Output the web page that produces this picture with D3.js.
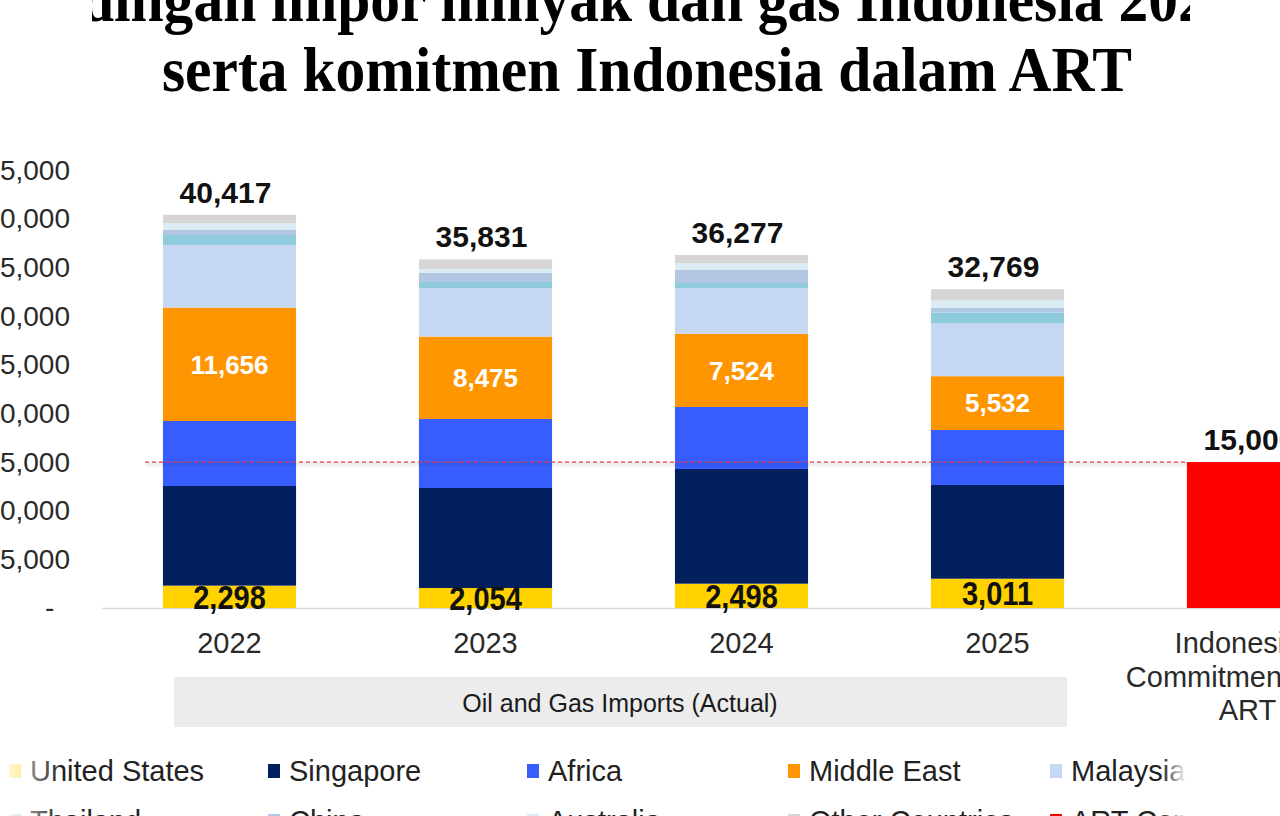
<!DOCTYPE html>
<html>
<head>
<meta charset="utf-8">
<script src="https://cdn.jsdelivr.net/npm/d3@7"></script>
<style>
  html, body { margin: 0; padding: 0; background: #fff; overflow: hidden; }
  svg { display: block; }
</style>
</head>
<body>
<svg id="chart" width="1280" height="816"></svg>
<script>
// ---------------- DATA ----------------
const titleLines = [
  "Perbandingan impor minyak dan gas Indonesia 2022-2025",
  "serta komitmen Indonesia dalam ART"
];
const categories = ["2022", "2023", "2024", "2025"];
const artCategory = "ART";
const artLabelLines = ["Indonesia's", "Commitment in the", "ART"];
const seriesNames = ["United States", "Singapore", "Africa", "Middle East", "Malaysia",
                     "Thailand", "China", "Australia", "Other Countries"];
const unitedStates   = [2298, 2054, 2498, 3011];
const singapore      = [10241, 10279, 11788, 9630];
const africa         = [6680, 7091, 6372, 5652];
const middleEast     = [11656, 8475, 7524, 5532];
const malaysia       = [6432, 4989, 4706, 5414];
const thailand       = [1028, 617, 514, 1130];
const china          = [514, 925, 1336, 514];
const australia      = [719, 411, 719, 719];
const otherCountries = [849, 990, 820, 1167];
const totals         = [40417, 35831, 36277, 32769];
const artCommitment  = 15000;
const artLegendName  = "ART Commitment";
const groupLabel     = "Oil and Gas Imports (Actual)";
const yTickValues    = [0, 5000, 10000, 15000, 20000, 25000, 30000, 35000, 40000, 45000];

// ---------------- STYLE ----------------
const colors = {
  "United States": "#ffd200",
  "Singapore": "#021f5e",
  "Africa": "#385dff",
  "Middle East": "#ff9500",
  "Malaysia": "#c6d8f1",
  "Thailand": "#8ecbdc",
  "China": "#b2c7e2",
  "Australia": "#dcecf5",
  "Other Countries": "#d6d6d6"
};
const artColor = "#ff0000";

const seriesData = [unitedStates, singapore, africa, middleEast, malaysia,
                    thailand, china, australia, otherCountries];

const svg = d3.select("#chart");
const W = 1280, H = 816;

const allCats = categories.concat([artCategory]);
const x = d3.scaleBand().domain(allCats).range([101.5, 1381.5])
  .paddingInner(0.48).paddingOuter(0.24);
const y = d3.scaleLinear().domain([0, 45000]).range([608, 170.15]);

const rows = categories.map((c, i) => {
  const r = { cat: c };
  seriesNames.forEach((s, j) => r[s] = seriesData[j][i]);
  return r;
});
const stack = d3.stack().keys(seriesNames)(rows);

const sansFont = "'Liberation Sans', Arial, Helvetica, sans-serif";
function scaledText(g, tx, ty, txt, sx, attrs) {
  const t = g.append("text")
    .attr("transform", `translate(${tx},${ty}) scale(${sx},1)`)
    .text(txt);
  Object.entries(attrs).forEach(([k, v]) => t.attr(k, v));
  return t;
}

// ---------------- TITLE ----------------
const titleG = svg.append("g");
[[titleLines[0], 636, 21], [titleLines[1], 647, 91]].forEach(([t, cx, by]) => {
  scaledText(titleG, cx, by, t, 0.93, {
    "text-anchor": "middle",
    "font-family": "'Liberation Serif', 'Times New Roman', serif",
    "font-weight": "bold",
    "font-size": 64,
    "fill": "#000"
  });
});
svg.append("rect").attr("x", 0).attr("y", 0).attr("width", 92).attr("height", 42).attr("fill", "#fff");
svg.append("rect").attr("x", 1190).attr("y", 0).attr("width", 90).attr("height", 42).attr("fill", "#fff");

// ---------------- Y AXIS ----------------
const yAxis = d3.axisLeft(y).tickValues(yTickValues).tickSize(0).tickPadding(10)
  .tickFormat(d => d === 0 ? "-\u2007" : d3.format(",")(d));
const yg = svg.append("g").attr("transform", "translate(80,0)").call(yAxis);
yg.select(".domain").remove();
yg.selectAll("text")
  .attr("font-family", sansFont)
  .attr("font-size", 28)
  .attr("fill", "#2a2a2a");

svg.append("line").attr("x1", 102).attr("x2", W).attr("y1", y(0) + 0.5).attr("y2", y(0) + 0.5)
  .attr("stroke", "#d9d9d9").attr("stroke-width", 1.5);

// ---------------- BARS ----------------
const barsG = svg.append("g");
stack.forEach(layer => {
  barsG.append("g").attr("fill", colors[layer.key])
    .selectAll("rect").data(layer).join("rect")
    .attr("x", d => x(d.data.cat))
    .attr("width", x.bandwidth())
    .attr("y", d => y(d[1]))
    .attr("height", d => y(d[0]) - y(d[1]));
});
barsG.append("rect")
  .attr("x", x(artCategory)).attr("width", x.bandwidth())
  .attr("y", y(artCommitment)).attr("height", y(0) - y(artCommitment))
  .attr("fill", artColor);

svg.append("line").attr("x1", 145).attr("x2", x(artCategory))
  .attr("y1", y(artCommitment) + 2.5).attr("y2", y(artCommitment) + 2.5)
  .attr("stroke", "#000").attr("stroke-opacity", 0.06).attr("stroke-width", 4);
svg.append("line").attr("x1", 145).attr("x2", x(artCategory))
  .attr("y1", y(artCommitment)).attr("y2", y(artCommitment))
  .attr("stroke", "#e8383d").attr("stroke-width", 1.3).attr("stroke-dasharray", "4,3");

// ---------------- LABELS ----------------
const fmt = d3.format(",");
const labelsG = svg.append("g");
categories.forEach((c, i) => {
  labelsG.append("text")
    .attr("x", x(c) + x.bandwidth() / 2 - 4)
    .attr("y", y(totals[i]) - 12)
    .attr("text-anchor", "middle")
    .attr("font-family", sansFont).attr("font-weight", "bold")
    .attr("font-size", 30).attr("fill", "#111")
    .text(fmt(totals[i]));
});
labelsG.append("text")
  .attr("x", x(artCategory) + x.bandwidth() / 2 - 4)
  .attr("y", y(artCommitment) - 12)
  .attr("text-anchor", "middle")
  .attr("font-family", sansFont).attr("font-weight", "bold")
  .attr("font-size", 30).attr("fill", "#111")
  .text(fmt(artCommitment));

const meLayer = stack[seriesNames.indexOf("Middle East")];
meLayer.forEach(d => {
  labelsG.append("text")
    .attr("x", x(d.data.cat) + x.bandwidth() / 2)
    .attr("y", (y(d[0]) + y(d[1])) / 2)
    .attr("dy", "0.36em")
    .attr("text-anchor", "middle")
    .attr("font-family", sansFont).attr("font-weight", "bold")
    .attr("font-size", 26).attr("fill", "#fff")
    .text(fmt(d[1] - d[0]));
});
const usLayer = stack[0];
usLayer.forEach(d => {
  scaledText(labelsG, x(d.data.cat) + x.bandwidth() / 2, (y(d[0]) + y(d[1])) / 2 + 12,
    fmt(d[1] - d[0]), 0.88, {
      "text-anchor": "middle",
      "font-family": sansFont, "font-weight": "bold",
      "font-size": 33, "fill": "#111"
    });
});

// ---------------- X LABELS ----------------
categories.forEach(c => {
  svg.append("text")
    .attr("x", x(c) + x.bandwidth() / 2)
    .attr("y", 643).attr("dy", "0.36em")
    .attr("text-anchor", "middle")
    .attr("font-family", sansFont).attr("font-size", 29).attr("fill", "#2a2a2a")
    .text(c);
});
artLabelLines.forEach((t, i) => {
  svg.append("text")
    .attr("x", x(artCategory) + x.bandwidth() / 2 - 6)
    .attr("y", 643 + i * 33.5).attr("dy", "0.36em")
    .attr("text-anchor", "middle")
    .attr("font-family", sansFont).attr("font-size", 29).attr("fill", "#2a2a2a")
    .text(t);
});

svg.append("rect").attr("x", 174).attr("y", 677).attr("width", 893).attr("height", 50)
  .attr("fill", "#ececec");
svg.append("text").attr("x", 620).attr("y", 703).attr("dy", "0.36em")
  .attr("text-anchor", "middle")
  .attr("font-family", sansFont).attr("font-size", 25).attr("fill", "#1a1a1a")
  .text(groupLabel);

// ---------------- LEGEND ----------------
const legendItems = seriesNames.map(s => ({ name: s, color: colors[s] }))
  .concat([{ name: artLegendName, color: artColor }]);
const colX = [9, 268, 527, 788, 1050];
const rowY = [771, 821];
const legG = svg.append("g");
legendItems.forEach((it, i) => {
  const cx = colX[i % 5], cy = rowY[Math.floor(i / 5)];
  legG.append("rect").attr("x", cx).attr("y", cy - 7).attr("width", 12).attr("height", 14)
    .attr("fill", it.color);
  legG.append("text").attr("x", cx + 21).attr("y", cy).attr("dy", "0.36em")
    .attr("font-family", sansFont).attr("font-size", 29).attr("fill", "#222")
    .text(it.name);
});
const defs = svg.append("defs");
const grad = defs.append("linearGradient").attr("id", "fade").attr("x1", 0).attr("x2", 1);
grad.append("stop").attr("offset", 0).attr("stop-color", "#fff").attr("stop-opacity", 0.97);
grad.append("stop").attr("offset", 1).attr("stop-color", "#fff").attr("stop-opacity", 0);
svg.append("rect").attr("x", 0).attr("y", 750).attr("width", 62).attr("height", 66)
  .attr("fill", "url(#fade)");
const grad2 = defs.append("linearGradient").attr("id", "fadeR").attr("x1", 0).attr("x2", 1);
grad2.append("stop").attr("offset", 0).attr("stop-color", "#fff").attr("stop-opacity", 0);
grad2.append("stop").attr("offset", 1).attr("stop-color", "#fff").attr("stop-opacity", 1);
svg.append("rect").attr("x", 1162).attr("y", 750).attr("width", 24).attr("height", 66)
  .attr("fill", "url(#fadeR)");
svg.append("rect").attr("x", 1186).attr("y", 750).attr("width", 94).attr("height", 66)
  .attr("fill", "#fff");
</script>
</body>
</html>
